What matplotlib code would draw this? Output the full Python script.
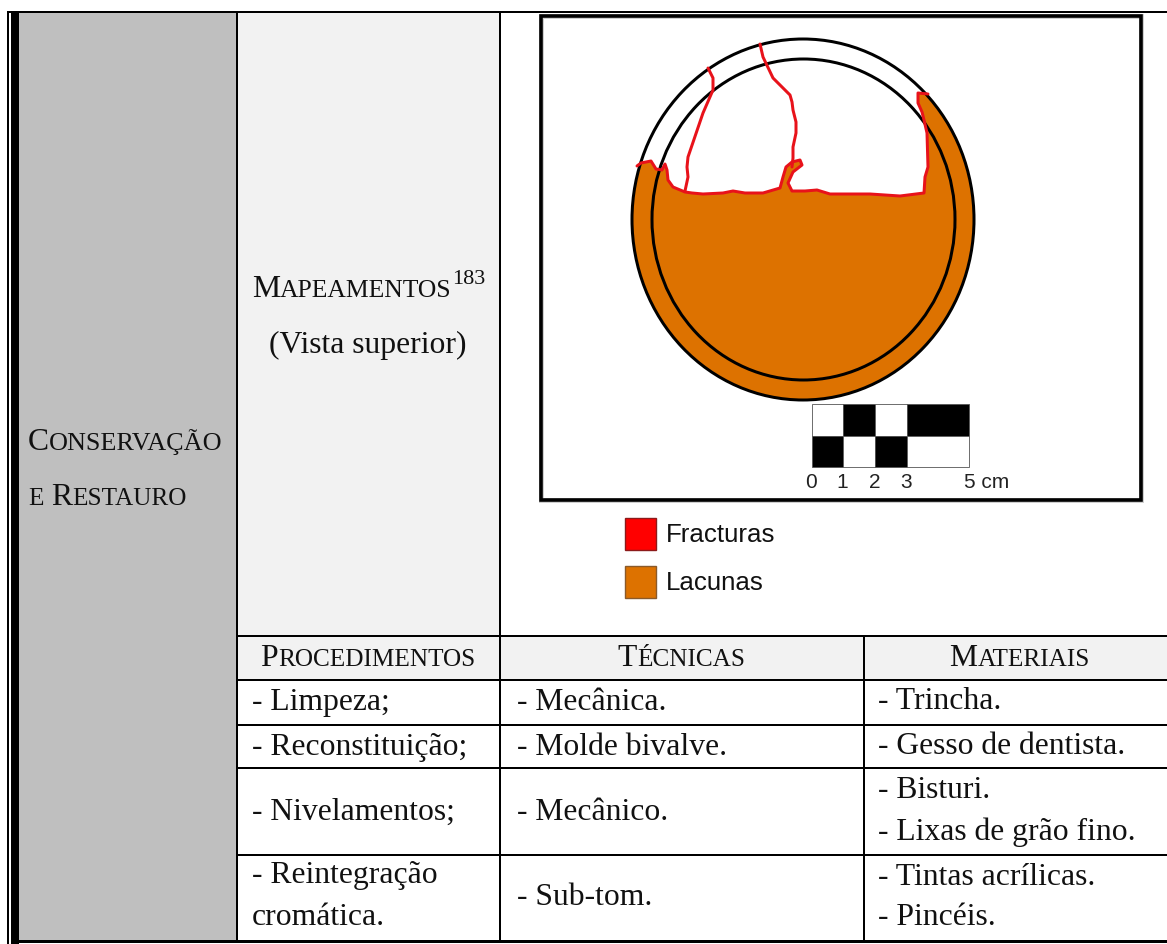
import matplotlib
matplotlib.use("Agg")
import matplotlib.pyplot as plt
from matplotlib.patches import Rectangle, Ellipse, Polygon

# --- content ---
section_lines = ["Conservação", "e Restauro"]
map_title = "Mapeamentos"
map_note = "183"
map_sub = "(Vista superior)"
headers = ["Procedimentos", "Técnicas", "Materiais"]
procedimentos = ["- Limpeza;", "- Reconstituição;", "- Nivelamentos;", "- Reintegração", "cromática."]
tecnicas = ["- Mecânica.", "- Molde bivalve.", "- Mecânico.", "- Sub-tom."]
materiais = ["- Trincha.", "- Gesso de dentista.", "- Bisturi.", "- Lixas de grão fino.",
             "- Tintas acrílicas.", "- Pincéis."]
legend_labels = ["Fracturas", "Lacunas"]
scale_labels = ["0", "1", "2", "3"]
scale_end = "5 cm"

# --- traced outlines of the drawing (image pixels) ---
lacuna_x = [637, 641, 651, 656, 662, 665, 667, 668, 673, 685, 692, 703, 723, 733, 745, 753, 763, 780, 783, 786, 792, 800,
            802, 793, 788, 792, 805, 817, 830, 850, 870, 900, 924, 925, 928, 927, 924, 922, 918, 918, 928]
lacuna_y = [166, 163, 161, 169, 170, 164, 170, 180, 187, 192, 193, 194, 193, 191, 193, 193, 193, 188, 177, 167, 162, 160,
            165, 172, 183, 191, 191, 190, 194, 194, 194, 196, 193, 177, 167, 133, 120, 112, 103, 93, 94]
crack_a_x = [708, 713, 713, 703, 688, 687, 688, 685]
crack_a_y = [68, 78, 90, 113, 157, 167, 177, 191]
crack_b_x = [760, 763, 773, 783, 790, 792, 793, 796, 796, 793, 793, 792]
crack_b_y = [44, 57, 78, 88, 95, 102, 110, 122, 133, 147, 158, 167]

W, H = 1167, 944
fig = plt.figure(figsize=(W / 100, H / 100), dpi=100, facecolor="white")
ax = fig.add_axes([0, 0, 1, 1])
ax.set_xlim(0, W)
ax.set_ylim(H, 0)
ax.axis("off")
PX = 0.72
SERIF = "Liberation Serif"
SANS = "Liberation Sans"
BIG = 22.8
SMALL = 18.2
renderer = fig.canvas.get_renderer()

def rect(x0, y0, x1, y1, color):
    ax.add_patch(Rectangle((x0, y0), x1 - x0, y1 - y0, fc=color, ec="none", zorder=1))

def hline(y, x0, x1, w=2):
    rect(x0, y - w / 2, x1, y + w / 2, "black")

def vline(x, y0, y1, w=2):
    rect(x - w / 2, y0, x + w / 2, y1, "black")

def smallcaps(s, x, y, ha="left", small=SMALL):
    runs = []
    for ch in s:
        big = ch.isupper() or not ch.isalpha()
        if runs and runs[-1][1] == big:
            runs[-1][0] += ch.upper()
        else:
            runs.append([ch.upper(), big])
    pieces = []
    total = 0
    for txt, big in runs:
        t = ax.text(0, y, txt, family=SERIF, fontsize=BIG if big else small, color="#111111",
                    va="baseline", ha="left", zorder=5)
        wd = t.get_window_extent(renderer).width
        if txt.endswith(" "):
            wd += 0.25 * (BIG if big else small) / PX
        pieces.append((t, wd))
        total += wd
    cx = x - total / 2 if ha == "center" else x
    for t, wd in pieces:
        t.set_x(cx)
        cx += wd
    return cx

def serif(s, x, y, ha="left", size=BIG):
    ax.text(x, y, s, family=SERIF, fontsize=size, color="#111111", va="baseline", ha=ha, zorder=5)

# cell fills
rect(19, 13, 236, 940, "#bfbfbf")
rect(238, 13, 499, 635, "#f2f2f2")
rect(238, 637, 1167, 679, "#f2f2f2")

# table lines
vline(8, 11, H, 2)
vline(15, 11, H, 8)
hline(12, 7, W, 2.2)
hline(941.3, 11, W, 3.4)
vline(237, 12, 941, 2.4)
vline(500, 12, 941, 2.4)
vline(864, 636, 941, 2)
for yy in [636, 680, 725, 768, 855]:
    hline(yy, 237, W, 2)

# picture frame
ax.add_patch(Rectangle((541, 16), 600, 484, fc="white", ec="#cfcfcf", lw=5 * PX, zorder=2))
ax.add_patch(Rectangle((541, 16), 600, 484, fc="none", ec="black", lw=3.6 * PX, zorder=2.1))

# drawing
ORANGE = "#dd7200"
OUTER_C, OUTER_W, OUTER_H = (803, 219.5), 342, 361
outer = Ellipse(OUTER_C, OUTER_W, OUTER_H, fc="none", ec="black", lw=3 * PX, zorder=3.2)
inner = Ellipse((803.5, 219.5), 303, 321, fc="none", ec="black", lw=3 * PX, zorder=3.2)
clip = Ellipse(OUTER_C, OUTER_W, OUTER_H, transform=ax.transData)
poly_x = lacuna_x + [1000, 1000, 600, 600]
poly_y = lacuna_y + [93, 420, 420, 166]
lac = Polygon(list(zip(poly_x, poly_y)), closed=True, fc=ORANGE, ec="none", zorder=3)
ax.add_patch(lac)
lac.set_clip_path(clip)
ax.add_patch(outer)
ax.add_patch(inner)
RED = "#e8121a"
for xs, ys in [(lacuna_x, lacuna_y), (crack_a_x, crack_a_y), (crack_b_x, crack_b_y)]:
    ax.plot(xs, ys, color=RED, lw=3 * PX, solid_joinstyle="round", solid_capstyle="round", zorder=3.5)

# scale bar
cols = [812, 843, 875, 907, 969]
rows = [404, 436, 467]
top_row = ["white", "black", "white", "black"]
bot_row = ["black", "white", "black", "white"]
for i in range(4):
    ax.add_patch(Rectangle((cols[i], rows[0]), cols[i + 1] - cols[i], rows[1] - rows[0],
                           fc=top_row[i], ec="#555555", lw=0.6, zorder=3))
    ax.add_patch(Rectangle((cols[i], rows[1]), cols[i + 1] - cols[i], rows[2] - rows[1],
                           fc=bot_row[i], ec="#555555", lw=0.6, zorder=3))
for lab, xx in zip(scale_labels, cols):
    ax.text(xx - 0.5, 487.5, lab, family=SANS, fontsize=15, color="#222222", ha="center", va="baseline", zorder=5)
ax.text(964, 487.5, scale_end, family=SANS, fontsize=15, color="#222222", ha="left", va="baseline", zorder=5)

# legend
for lab, y0, fc, ec, base in [(legend_labels[0], 518, "#ff0000", "#8c1a1a", 542.5),
                              (legend_labels[1], 566, ORANGE, "#8a5a2a", 590)]:
    ax.add_patch(Rectangle((624.5, y0), 31.5, 31.5, fc=fc, ec=ec, lw=1, zorder=3))
    ax.text(665.5, base, lab, family=SANS, fontsize=18.6, color="#111111", ha="left", va="baseline", zorder=5)

# left cells
smallcaps(section_lines[0], 28, 450, small=18.85)
smallcaps(section_lines[1], 28, 505)
end = smallcaps(map_title, 252, 297, small=18.45)
serif(map_note, end, 283.5, size=16)
serif(map_sub, 368, 353, ha="center")

# header row
for lab, xc in zip(headers, [368, 681.5, 1019.5]):
    smallcaps(lab, xc, 665.5, ha="center")

# body
for s, y in zip(procedimentos, [710, 755, 820, 883, 925]):
    serif(s, 252, y)
for s, y in zip(tecnicas, [710, 755, 820, 905]):
    serif(s, 517, y)
for s, y in zip(materiais, [709, 754, 798, 840, 885, 925]):
    serif(s, 878, y)

fig.savefig("out.png", dpi=100, facecolor="white")
